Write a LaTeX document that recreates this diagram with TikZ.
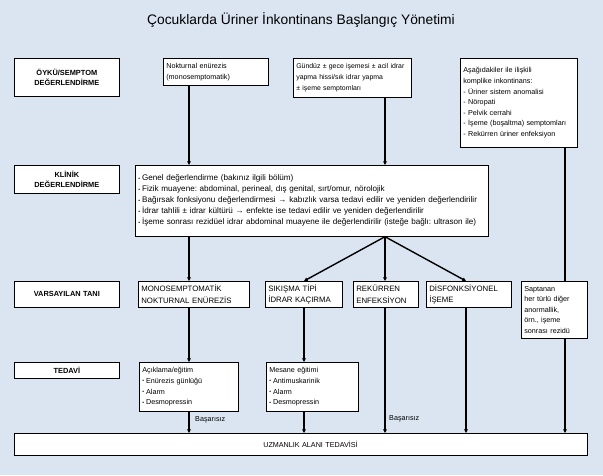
\documentclass[tikz,border=0pt]{standalone}
\usepackage{fontspec}
\setmainfont{Liberation Sans}
\usetikzlibrary{arrows.meta,shadows}
\definecolor{bgblue}{RGB}{219,229,241}
\newcommand\bul{\raisebox{0.5pt}{\fontsize{5}{5}\selectfont•}\hspace{2pt}}
\begin{document}
\frenchspacing
\begin{tikzpicture}[x=1pt,y=-1pt,
  box/.style={draw=black, line width=0.7pt, fill=white, anchor=north west,
    inner xsep=3pt, inner ysep=1pt, align=left,
    font=\fontsize{7.2}{10.6}\selectfont,
    drop shadow={shadow xshift=0.8pt, shadow yshift=-0.8pt, fill=black!80, opacity=1}},
  stage/.style={box, align=center, font=\bfseries\fontsize{7.4}{10.6}\selectfont,
    minimum width=105pt, text width=99pt},
  diag/.style={box, font=\fontsize{7.8}{11.6}\selectfont, minimum height=26pt},
  flow/.style={line width=1.4pt, -{Triangle[length=3.6pt,width=3.6pt]}},
  plain/.style={line width=1.4pt},
  note/.style={anchor=west, inner sep=0pt, font=\fontsize{7.2}{8}\selectfont}
]
% canvas
\fill[bgblue] (0,0) rectangle (603,475);
\useasboundingbox (0,0) rectangle (603,475);

% title
\node[font=\fontsize{13.8}{16}\selectfont] (title) at (301,20) {Çocuklarda Üriner İnkontinans Başlangıç Yönetimi};

% stage labels on the left
\node[stage, minimum height=38pt] (s1) at (14,58) {ÖYKÜ/SEMPTOM\\DEĞERLENDİRME};
\node[stage, minimum height=28pt] (s2) at (14,165) {KLİNİK\\DEĞERLENDİRME};
\node[stage, minimum height=26pt] (s3) at (14,281) {VARSAYILAN TANI};
\node[stage, minimum height=16pt] (s4) at (14,362) {TEDAVİ};

% column positions of the vertical connectors
\coordinate (cA) at (189,0);
\coordinate (cB) at (304,0);
\coordinate (cC) at (385,0);
\coordinate (cD) at (466,0);
\coordinate (cE) at (565,0);

% history / symptoms
\node[box, minimum width=105pt, text width=99pt, minimum height=27pt] (noct) at (163,58)
  {Nokturnal enürezis\\(monosemptomatik)};
\node[box, minimum width=118pt, text width=112pt, minimum height=39pt,
      font=\fontsize{6.9}{10.8}\selectfont] (day) at (293,58)
  {Gündüz ± gece işemesi ± acil idrar\\yapma hissi/sık idrar yapma\\± işeme semptomları};
\node[box, minimum width=117pt, text width=111pt, minimum height=89pt] (comp) at (460,58)
  {Aşağıdakiler ile ilişkili\\ komplike inkontinans:\\- Üriner sistem anomalisi\\- Nöropati\\- Pelvik cerrahi\\- İşeme (boşaltma) semptomları\\- Rekürren üriner enfeksiyon};

% clinical assessment
\node[box, minimum width=353pt, text width=347pt, minimum height=71pt,
      font=\fontsize{8.1}{11}\selectfont] (clin) at (135,165)
  {\bul Genel değerlendirme (bakınız ilgili bölüm)\\
   \bul Fizik muayene: abdominal, perineal, dış genital, sırt/omur, nörolojik\\
   \bul Bağırsak fonksiyonu değerlendirmesi → kabızlık varsa tedavi edilir ve yeniden değerlendirilir\\
   \bul İdrar tahlili ± idrar kültürü → enfekte ise tedavi edilir ve yeniden değerlendirilir\\
   \bul İşeme sonrası rezidüel idrar abdominal muayene ile değerlendirilir (isteğe bağlı: ultrason ile)};

% presumptive diagnosis
\node[diag, minimum width=111pt, text width=105pt] (mono) at (138,281) {MONOSEMPTOMATİK\\NOKTURNAL ENÜREZİS};
\node[diag, minimum width=77pt, text width=71pt] (urge) at (265,281) {SIKIŞMA TİPİ\\İDRAR KAÇIRMA};
\node[diag, minimum width=65pt, text width=59pt] (rec) at (353,281) {REKÜRREN\\ENFEKSİYON};
\node[diag, minimum width=85pt, text width=79pt] (dys) at (426,281) {DİSFONKSİYONEL\\İŞEME};
\node[box, minimum width=66pt, text width=60pt, minimum height=57pt] (other) at (521,281)
  {Saptanan\\her türlü diğer\\anormallik,\\örn., işeme\\sonrası rezidü};

% treatment
\node[box, minimum width=99pt, text width=93pt, minimum height=49pt] (tr1) at (139,362)
  {Açıklama/eğitim\\\bul Enürezis günlüğü\\\bul Alarm\\\bul Desmopressin};
\node[box, minimum width=92pt, text width=86pt, minimum height=49pt] (tr2) at (266,362)
  {Mesane eğitimi\\\bul Antimuskarinik\\\bul Alarm\\\bul Desmopressin};

% specialist care
\node[box, minimum width=573pt, text width=567pt, minimum height=22pt] (spec) at (14,433)
  {\hspace*{246pt}UZMANLIK ALANI TEDAVİSİ};

% connectors
\draw[flow] (noct.south -| cA) -- (clin.north -| cA);
\draw[flow] (day.south -| cC) -- (clin.north -| cC);
\draw[plain] (comp.south -| cE) -- (other.north -| cE);

\draw[flow] (clin.south -| cA) -- (mono.north -| cA);
\draw[flow] (clin.south -| cC) -- (urge.north -| cB);
\draw[flow] (clin.south -| cC) -- (rec.north -| cC);
\draw[flow] (clin.south -| cC) -- (dys.north -| cD);

\draw[flow] (mono.south -| cA) -- (tr1.north -| cA);
\draw[flow] (urge.south -| cB) -- (tr2.north -| cB);

\draw[flow] (tr1.south -| cA) -- (spec.north -| cA);
\draw[flow] (tr2.south -| cB) -- (spec.north -| cB);
\draw[flow] (rec.south -| cC) -- (spec.north -| cC);
\draw[flow] (dys.south -| cD) -- (spec.north -| cD);
\draw[flow] (other.south -| cE) -- (spec.north -| cE);

% failure labels
\node[note] (f1) at (195,420) {Başarısız};
\node[note] (f2) at (389,419) {Başarısız};
\end{tikzpicture}
\end{document}
